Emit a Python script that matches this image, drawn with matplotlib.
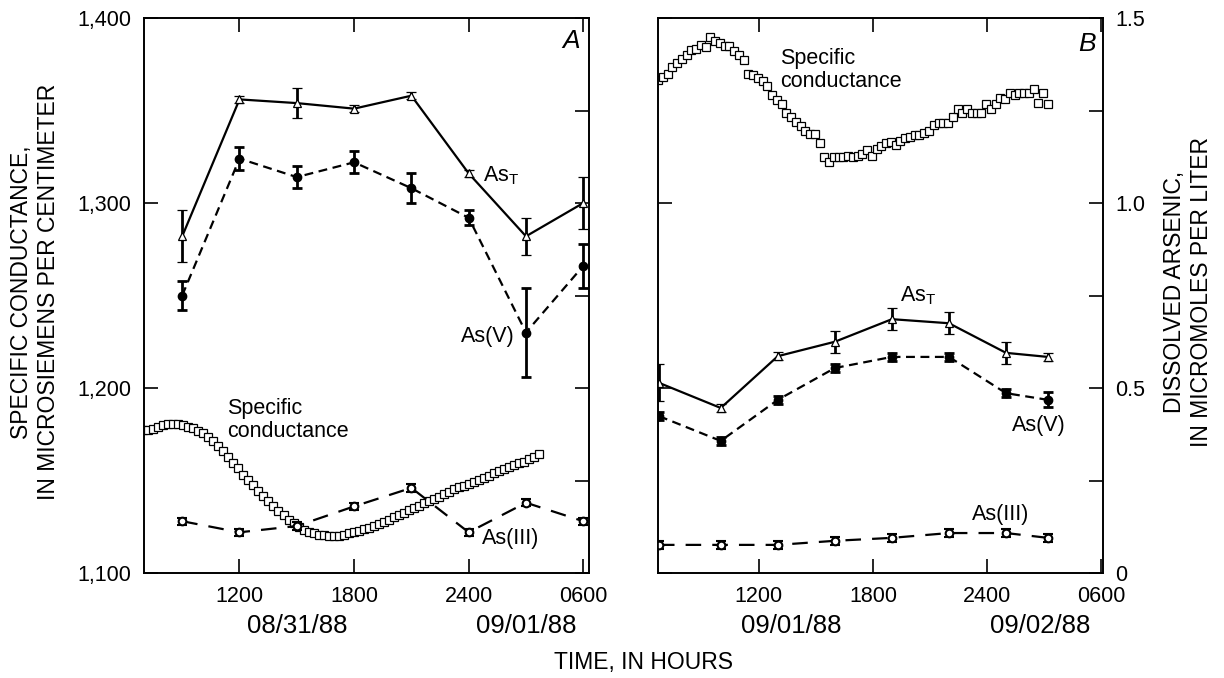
import matplotlib.pyplot as plt
import numpy as np
from matplotlib.ticker import FixedLocator, FixedFormatter, NullFormatter
from matplotlib.transforms import blended_transform_factory

plt.rcParams['font.family'] = ['Liberation Sans', 'DejaVu Sans']
plt.rcParams['mathtext.default'] = 'regular'

# ---- panel A (08/31/88 - 09/01/88), hours from midnight 08/31 ----
hours_a = [9, 12, 15, 18, 21, 24, 27, 30]
ast_a = [0.91, 1.28, 1.27, 1.255, 1.29, 1.08, 0.91, 1.00]
ast_a_err = [0.07, 0.01, 0.04, 0.01, 0.01, 0.01, 0.05, 0.07]
asv_a = [0.75, 1.12, 1.07, 1.11, 1.04, 0.96, 0.65, 0.83]
asv_a_err = [0.04, 0.03, 0.03, 0.03, 0.04, 0.02, 0.12, 0.06]
as3_a = [0.14, 0.11, 0.127, 0.18, 0.23, 0.11, 0.19, 0.14]
as3_a_err = [0.01, 0.01, 0.01, 0.01, 0.01, 0.01, 0.01, 0.01]

sc_a = [1177.3, 1177.3, 1177.8, 1179.1, 1180.0, 1180.5, 1180.5, 1180.5, 1180.0, 1179.1,
        1178.2, 1176.9, 1175.5, 1173.7, 1171.4, 1168.6, 1165.9, 1162.7, 1159.5, 1156.8,
        1153.2, 1150.3, 1147.3, 1144.3, 1141.6, 1138.9, 1136.2, 1133.5, 1131.1, 1128.9,
        1127.0, 1125.1, 1123.5, 1122.2, 1121.4, 1120.8, 1120.3, 1120.0, 1120.0, 1120.0,
        1120.3, 1121.5, 1122.3, 1122.9, 1123.6, 1124.5, 1125.6, 1126.5, 1127.7, 1128.6,
        1130.1, 1131.4, 1132.6, 1134.1, 1135.0, 1136.4, 1137.7, 1138.9, 1140.0, 1141.2,
        1142.7, 1143.9, 1145.2, 1146.3, 1147.2, 1148.1, 1149.4, 1150.3, 1151.5, 1152.6,
        1153.9, 1155.1, 1156.2, 1157.5, 1158.4, 1159.3, 1160.2, 1161.5, 1162.5, 1164.3]
sc_a_start, sc_a_end = 6.95, 27.7

# ---- panel B (09/01/88 - 09/02/88) ----
hours_b = [6.75, 10, 13, 16, 19, 22, 25, 27.2]
ast_b = [0.514, 0.446, 0.586, 0.625, 0.686, 0.675, 0.595, 0.584]
ast_b_err = [0.05, 0.01, 0.01, 0.03, 0.03, 0.03, 0.03, 0.01]
asv_b = [0.424, 0.357, 0.468, 0.554, 0.584, 0.584, 0.486, 0.468]
asv_b_err = [0.01, 0.01, 0.01, 0.01, 0.01, 0.01, 0.01, 0.02]
as3_b = [0.076, 0.076, 0.076, 0.087, 0.095, 0.108, 0.108, 0.095]
as3_b_err = [0.01, 0.01, 0.01, 0.01, 0.01, 0.01, 0.01, 0.01]

sc_b = [1366.5, 1368.3, 1369.7, 1373.4, 1375.5, 1377.7, 1380.0, 1382.7, 1383.1, 1385.4,
        1384.5, 1389.9, 1387.7, 1386.6, 1384.9, 1384.9, 1382.3, 1380.0, 1377.3, 1369.7,
        1369.2, 1367.4, 1365.9, 1363.2, 1358.4, 1355.7, 1353.5, 1348.5, 1346.3, 1343.9,
        1341.6, 1339.1, 1337.3, 1337.3, 1332.6, 1324.7, 1322.3, 1324.7, 1324.7, 1325.0,
        1325.4, 1325.0, 1325.4, 1326.5, 1328.6, 1325.4, 1329.0, 1330.8, 1332.3, 1333.1,
        1331.4, 1333.7, 1335.0, 1335.8, 1336.8, 1336.8, 1338.0, 1339.1, 1342.2, 1343.4,
        1343.4, 1343.4, 1346.6, 1350.6, 1348.5, 1350.6, 1348.5, 1348.5, 1348.5, 1353.5,
        1350.6, 1353.5, 1356.6, 1356.1, 1359.6, 1358.4, 1359.6, 1359.6, 1359.6, 1361.5,
        1354.2, 1359.3, 1353.4]
sc_b_start, sc_b_step = 6.7, 0.25

tick_hours = [12, 18, 24, 30]
tick_names = ['1200', '1800', '2400', '0600']
sc_ticks = [1100, 1200, 1300, 1400]
sc_names = ['1,100', '1,200', '1,300', '1,400']
as_ticks = [0, 0.25, 0.5, 0.75, 1.0, 1.25, 1.5]
as_names = ['0', '', '0.5', '', '1.0', '', '1.5']

FS = 15.5
LW = 1.6
ebkw = dict(ecolor='black', elinewidth=2, capsize=3.5, capthick=2)


def panel(rect, xlim, sc_t, sc_v, hrs, ast, ast_e, asv, asv_e, as3, as3_e,
          left_lab, right_lab, dates, date_pos):
    ax = fig.add_axes(rect)
    ax2 = ax.twinx()
    ax.set_xlim(*xlim)
    ax.set_ylim(1100, 1400)
    ax2.set_ylim(0, 1.5)

    ax.plot(sc_t, sc_v, linestyle='none', marker='s', ms=5.3, mfc='white',
            mec='black', mew=0.9)

    ax2.errorbar(hrs, ast, yerr=ast_e, color='black', lw=LW, marker='^', ms=6,
                 mfc='white', mec='black', mew=0.9, **ebkw)
    ax2.errorbar(hrs, asv, yerr=asv_e, color='black', lw=LW, ls=(0, (4, 2.5)),
                 marker='o', ms=6, mfc='black', mec='black', **ebkw)
    ax2.errorbar(hrs, as3, yerr=as3_e, color='black', lw=LW, ls=(0, (7, 5)),
                 marker='o', ms=5.5, mfc='white', mec='black', mew=1.5, **ebkw)

    for a in (ax, ax2):
        for s in a.spines.values():
            s.set_linewidth(1.2)
    ax.xaxis.set_major_locator(FixedLocator(tick_hours))
    ax.xaxis.set_major_formatter(FixedFormatter(tick_names))
    ax.tick_params(axis='x', direction='in', top=True, length=10, width=1.2,
                   labelsize=FS, pad=9.5)
    ax.yaxis.set_major_locator(FixedLocator(sc_ticks))
    ax.tick_params(axis='y', direction='in', length=10, width=1.2,
                   labelsize=FS, pad=9, labelleft=left_lab)
    ax.yaxis.set_major_formatter(FixedFormatter(sc_names) if left_lab else NullFormatter())
    ax2.yaxis.set_major_locator(FixedLocator(as_ticks))
    ax2.tick_params(axis='y', direction='in', length=10, width=1.2,
                    labelsize=FS, pad=9, labelright=right_lab)
    ax2.yaxis.set_major_formatter(FixedFormatter(as_names) if right_lab else NullFormatter())

    tr = blended_transform_factory(ax.transData, ax.transAxes)
    for d, p in zip(dates, date_pos):
        ax.text(p, -0.0955, d, transform=tr, ha='center', va='center', fontsize=18.5)
    return ax, ax2


fig = plt.figure(figsize=(12.24, 6.78), dpi=100)

t_a = np.linspace(sc_a_start, sc_a_end, len(sc_a))
axA, axA2 = panel([144 / 1224, 105 / 678, 445 / 1224, 555 / 678], (7.0, 30.3),
                  t_a, sc_a, hours_a, ast_a, ast_a_err, asv_a, asv_a_err,
                  as3_a, as3_a_err, True, False, ['08/31/88', '09/01/88'], [15.0, 27.0])

t_b = sc_b_start + sc_b_step * np.arange(len(sc_b))
axB, axB2 = panel([658 / 1224, 105 / 678, 445 / 1224, 555 / 678], (6.7, 30.1),
                  t_b, sc_b, hours_b, ast_b, ast_b_err, asv_b, asv_b_err,
                  as3_b, as3_b_err, False, True, ['09/01/88', '09/02/88'], [13.7, 26.8])

# panel letters and curve labels
axA.text(0.96, 0.958, 'A', transform=axA.transAxes, ha='center', va='center',
         fontsize=19, style='italic')
axB.text(0.964, 0.953, 'B', transform=axB.transAxes, ha='center', va='center',
         fontsize=19, style='italic')

axA2.text(24.75, 1.075, 'As$_T$', fontsize=FS, ha='left', va='center')
axA2.text(25.0, 0.638, 'As(V)', fontsize=FS, ha='center', va='center')
axA2.text(26.2, 0.092, 'As(III)', fontsize=FS, ha='center', va='center')
axA2.text(11.35, 0.414, 'Specific\nconductance', fontsize=FS, ha='left',
          va='center', linespacing=1.15)

axB2.text(19.4, 0.75, 'As$_T$', fontsize=FS, ha='left', va='center')
axB2.text(26.7, 0.40, 'As(V)', fontsize=FS, ha='center', va='center')
axB2.text(24.7, 0.157, 'As(III)', fontsize=FS, ha='center', va='center')
axB2.text(13.1, 1.36, 'Specific\nconductance', fontsize=FS, ha='left',
          va='center', linespacing=1.15)

fig.text(35 / 1224, 1 - 292 / 678, 'SPECIFIC CONDUCTANCE,\nIN MICROSIEMENS PER CENTIMETER',
         rotation=90, ha='center', va='center', fontsize=16.5, linespacing=1.25)
fig.text(1188 / 1224, 1 - 292 / 678, 'DISSOLVED ARSENIC,\nIN MICROMOLES PER LITER',
         rotation=90, ha='center', va='center', fontsize=16.5, linespacing=1.25)
fig.text(644 / 1224, 1 - 663 / 678, 'TIME, IN HOURS', ha='center', va='center',
         fontsize=16.5)

fig.savefig('out.png', dpi=100)
